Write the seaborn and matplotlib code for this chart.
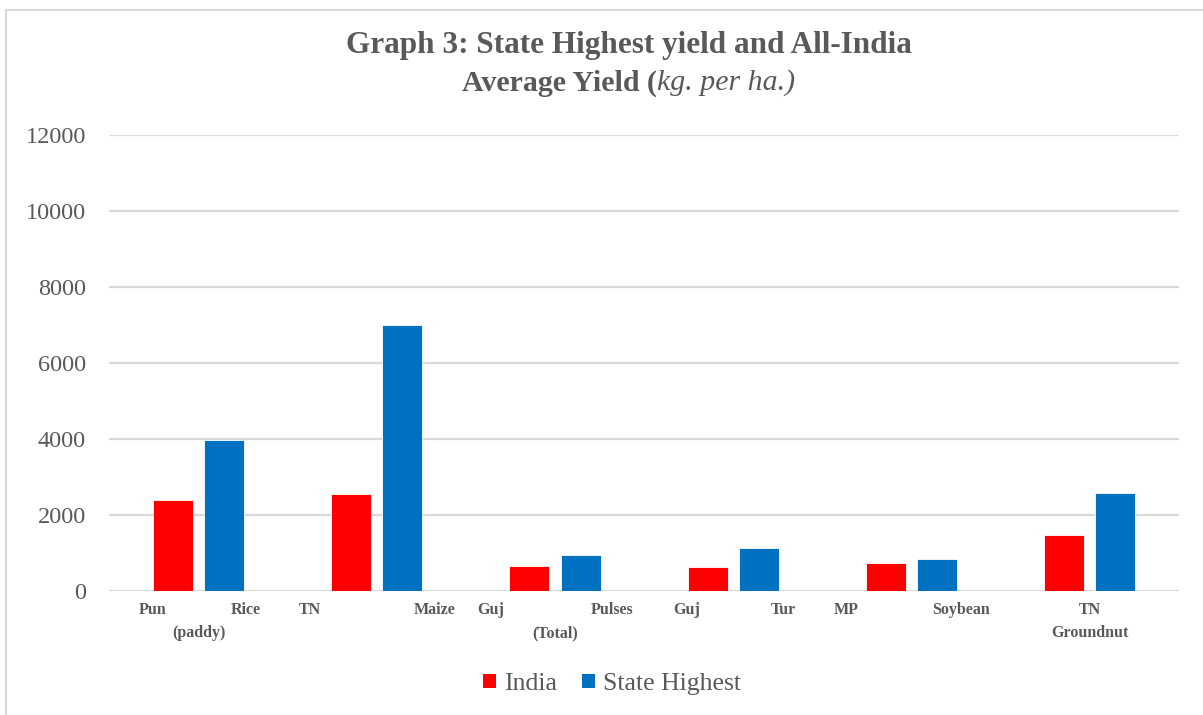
import matplotlib
matplotlib.use("Agg")
import matplotlib.pyplot as plt
from matplotlib.lines import Line2D
from matplotlib.patches import Patch
import seaborn as sns
import pandas as pd

# ---- data ----
crops = ["Rice", "Maize", "Pulses", "Tur", "Soybean", "Groundnut"]
india = [2400, 2565, 655, 645, 740, 1465]
state_highest = [3980, 7010, 940, 1130, 830, 2585]
series_names = ["India", "State Highest"]
# label pieces: (left word, right word, centred first line, second line)
label_left = ["Pun", "TN", "Guj", "Guj", "MP", ""]
label_right = ["Rice", "Maize", "Pulses", "Tur", "Soybean", ""]
label_mid = ["", "", "", "", "", "TN"]
label_line2 = ["(paddy)", "", "(Total)", "", "", "Groundnut"]
yticks = [0, 2000, 4000, 6000, 8000, 10000, 12000]

RED = "#FF0000"
BLUE = "#0070C0"
GRAY = "#595959"
GRID = "#D9D9D9"
SERIF = ["Liberation Serif", "DejaVu Serif"]

sns.set_theme(style="white")
plt.rcParams["font.family"] = SERIF

df = pd.DataFrame({
    "crop": crops * 2,
    "series": [series_names[0]] * len(crops) + [series_names[1]] * len(crops),
    "yield": india + state_highest,
})

fig = plt.figure(figsize=(12.03, 7.15), dpi=100)
ax = fig.add_axes([0.0909, 0.1734, 0.8891, 0.6378])

sns.barplot(data=df, x="crop", y="yield", hue="series", order=crops,
            hue_order=series_names, palette=[RED, BLUE], width=0.573, gap=0.216,
            saturation=1, edgecolor="white", linewidth=0.6, ax=ax, legend=False,
            zorder=3)

ax.set_ylim(0, 12000)
ax.set_xlim(-0.5, len(crops) - 0.5)
ax.set_yticks(yticks)
ax.set_yticklabels([str(t) for t in yticks], color=GRAY, fontsize=17.5)
ax.tick_params(axis="y", length=0, pad=17)
ax.tick_params(axis="x", length=0)
ax.set_xticks(range(len(crops)))
ax.set_xticklabels([""] * len(crops))
ax.set_xlabel("")
ax.set_ylabel("")
ax.grid(axis="y", color=GRID, linewidth=1.6, zorder=0)
ax.set_axisbelow(True)
for s in ax.spines.values():
    s.set_visible(False)

# category labels
trans = ax.get_xaxis_transform()
lab_kw = dict(fontsize=11.5, fontweight="bold", color=GRAY, transform=trans, va="top")
y1, y2 = -0.024, -0.0745
for i in range(len(crops)):
    wide = i in (1, 2, 4)
    if label_left[i]:
        ax.text(i - 0.335 - (0.1 if wide else 0), y1, label_left[i], ha="left", **lab_kw)
    if label_right[i]:
        ax.text(i + 0.35 + (0.09 if wide else 0), y1, label_right[i], ha="right", **lab_kw)
    if label_mid[i]:
        ax.text(i, y1, label_mid[i], ha="center", **lab_kw)
    if label_line2[i]:
        ax.text(i, y2, label_line2[i], ha="center", **lab_kw)

# title
cx = 629 / 1203
fig.text(cx, 1 - 45 / 715, "Graph 3: State Highest yield and All-India", ha="center",
         va="center", fontsize=22.5, fontweight="bold", color=GRAY)
fig.canvas.draw()
r = fig.canvas.get_renderer()
t1 = fig.text(0, 1 - 83 / 715, "Average Yield (", ha="left", va="center",
              fontsize=21.5, fontweight="bold", color=GRAY)
t2 = fig.text(0, 1 - 83 / 715, "kg. per ha.)", ha="left", va="center",
              fontsize=21.5, fontstyle="italic", color=GRAY)
w1 = t1.get_window_extent(r).width
w2 = t2.get_window_extent(r).width
W = fig.bbox.width
x0 = cx - (w1 + w2) / 2 / W
t1.set_x(x0)
t2.set_x(x0 + w1 / W)

# legend
handles = [Patch(facecolor=RED, edgecolor="none"), Patch(facecolor=BLUE, edgecolor="none")]
fig.legend(handles, series_names, loc="center", bbox_to_anchor=(612 / 1203, 1 - 684 / 715),
           ncol=2, frameon=False, fontsize=18.5, labelcolor=GRAY, handlelength=0.5,
           handleheight=0.5, handletextpad=0.3, columnspacing=1.0)

# chart frame (left and top edges visible)
fig.add_artist(Line2D([6 / 1203, 6 / 1203], [0, 1 - 10 / 715], color=GRID, linewidth=1.5,
                      transform=fig.transFigure))
fig.add_artist(Line2D([6 / 1203, 1.0], [1 - 10 / 715, 1 - 10 / 715], color=GRID, linewidth=1.5,
                      transform=fig.transFigure))

fig.savefig("out.png", dpi=100)
